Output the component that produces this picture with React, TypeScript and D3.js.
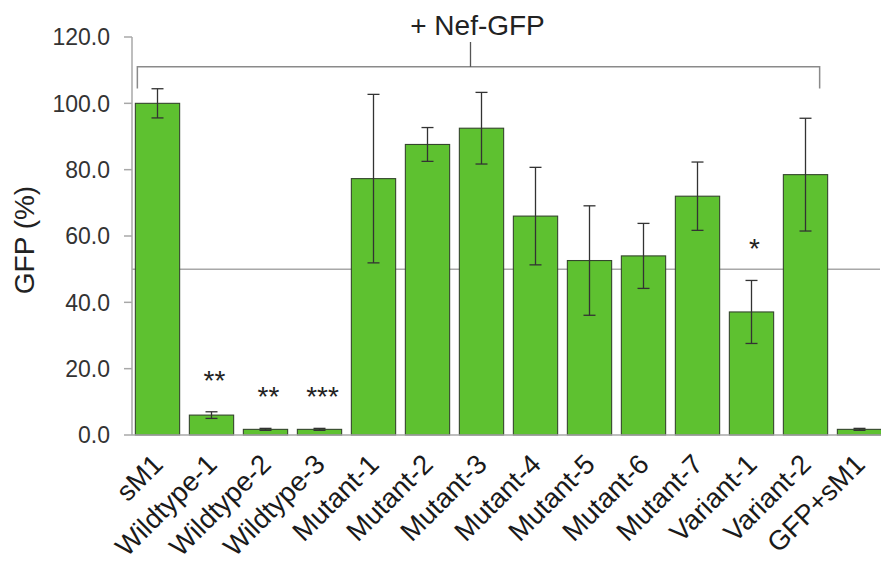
import React, { useEffect, useRef } from "react";
import * as d3 from "d3";

const categories = [
  "sM1", "Wildtype-1", "Wildtype-2", "Wildtype-3", "Mutant-1", "Mutant-2", "Mutant-3",
  "Mutant-4", "Mutant-5", "Mutant-6", "Mutant-7", "Variant-1", "Variant-2", "GFP+sM1",
];
const values = [100, 6.0, 1.7, 1.7, 77.3, 87.6, 92.5, 66.0, 52.6, 54.0, 72.0, 37.1, 78.5, 1.7];
const errors = [4.4, 1.0, 0.3, 0.3, 25.4, 5.1, 10.8, 14.7, 16.5, 9.8, 10.3, 9.5, 17.0, 0.3];
const stars = ["", "**", "**", "***", "", "", "", "", "", "", "", "*", "", ""];
const yTicks = [0, 20, 40, 60, 80, 100, 120];
const refLine = 50;
const bracketLabel = "+ Nef-GFP";
const yLabel = "GFP (%)";

const font = "'Liberation Sans', Arial, sans-serif";

export default function App() {
  const ref = useRef<SVGSVGElement>(null);

  useEffect(() => {
    const svg = d3.select(ref.current);
    svg.selectAll("*").remove();

    const axisX = 132;
    const x = d3.scaleBand<string>()
      .domain(categories)
      .range([130.5, 886.5])
      .paddingInner(0.18)
      .paddingOuter(0.09);
    const y = d3.scaleLinear().domain([0, 120]).range([435, 37]);
    const bw = x.bandwidth();
    const cx = (c: string) => (x(c) as number) + bw / 2;

    // y axis
    svg.append("line")
      .attr("x1", axisX).attr("x2", axisX)
      .attr("y1", y(120)).attr("y2", y(0))
      .attr("stroke", "#a8a8a8").attr("stroke-width", 1.5);
    svg.selectAll(".ytick")
      .data(yTicks)
      .join("line")
      .attr("x1", axisX - 8).attr("x2", axisX)
      .attr("y1", d => y(d)).attr("y2", d => y(d))
      .attr("stroke", "#a8a8a8").attr("stroke-width", 1.5);
    svg.selectAll(".ylab")
      .data(yTicks)
      .join("text")
      .attr("x", 110)
      .attr("y", d => y(d))
      .attr("dy", "0.36em")
      .attr("text-anchor", "end")
      .attr("font-family", font)
      .attr("font-size", 23)
      .attr("fill", "#333")
      .text(d => d3.format(".1f")(d));

    svg.append("text")
      .attr("transform", `translate(34, 240) rotate(-90)`)
      .attr("text-anchor", "middle")
      .attr("font-family", font)
      .attr("font-size", 28)
      .attr("fill", "#222")
      .text(yLabel);

    // reference line
    svg.append("line")
      .attr("x1", axisX).attr("x2", 880)
      .attr("y1", y(refLine)).attr("y2", y(refLine))
      .attr("stroke", "#a8a8a8").attr("stroke-width", 1.5);

    // bars
    svg.selectAll(".bar")
      .data(categories)
      .join("rect")
      .attr("x", d => x(d) as number)
      .attr("y", (d, i) => y(values[i]))
      .attr("width", bw)
      .attr("height", (d, i) => y(0) - y(values[i]))
      .attr("fill", "#5ec130")
      .attr("stroke", "#34462c")
      .attr("stroke-width", 1.1);

    // baseline
    svg.append("line")
      .attr("x1", axisX).attr("x2", 881)
      .attr("y1", y(0)).attr("y2", y(0))
      .attr("stroke", "#a8a8a8").attr("stroke-width", 1.5);

    // error bars
    const err = svg.append("g").attr("stroke", "#333").attr("stroke-width", 1.3);
    categories.forEach((c, i) => {
      const top = y(values[i] + errors[i]);
      const bot = y(values[i] - errors[i]);
      err.append("line").attr("x1", cx(c)).attr("x2", cx(c)).attr("y1", top).attr("y2", bot);
      err.append("line").attr("x1", cx(c) - 6).attr("x2", cx(c) + 6).attr("y1", top).attr("y2", top);
      err.append("line").attr("x1", cx(c) - 6).attr("x2", cx(c) + 6).attr("y1", bot).attr("y2", bot);
    });

    // significance stars
    svg.selectAll(".star")
      .data(categories)
      .join("text")
      .attr("x", d => cx(d) + 3)
      .attr("y", (d, i) => y(values[i] + errors[i]) - 22)
      .attr("text-anchor", "middle")
      .attr("font-family", font)
      .attr("font-size", 28)
      .attr("fill", "#222")
      .text((d, i) => stars[i]);

    // bracket
    const bl = (x(categories[0]) as number) + 2;
    const br = (x("Variant-2") as number) + bw - 8;
    const bmid = (bl + br) / 2 - 8;
    svg.append("path")
      .attr("d", `M${bl},${y(104.5)}V${y(111)}H${br}V${y(104.5)}`)
      .attr("fill", "none")
      .attr("stroke", "#8a8a8a")
      .attr("stroke-width", 1.5);
    svg.append("line")
      .attr("x1", bmid).attr("x2", bmid)
      .attr("y1", y(118.5)).attr("y2", y(111))
      .attr("stroke", "#555").attr("stroke-width", 1.3);
    svg.append("text")
      .attr("x", bmid + 7)
      .attr("y", y(120.5))
      .attr("text-anchor", "middle")
      .attr("font-family", font)
      .attr("font-size", 28)
      .attr("fill", "#222")
      .text(bracketLabel);

    // x labels
    svg.selectAll(".xlab")
      .data(categories)
      .join("text")
      .attr("transform", d => `translate(${cx(d) + 7}, 466) rotate(-45)`)
      .attr("text-anchor", "end")
      .attr("font-family", font)
      .attr("font-size", 27.5)
      .attr("fill", "#1a1a1a")
      .text(d => d);
  }, []);

  return (
    <svg
      ref={ref}
      width={881}
      height={574}
      style={{ position: "absolute", left: 0, top: 0, background: "#fff" }}
    />
  );
}
